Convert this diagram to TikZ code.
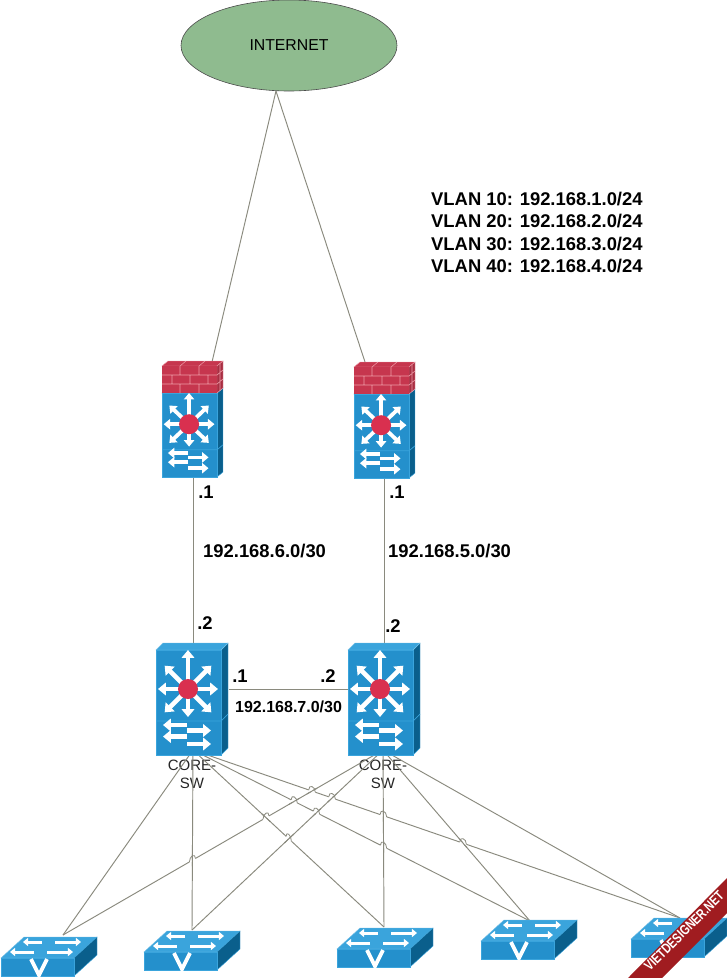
\documentclass[tikz,border=0pt]{standalone}
\usepackage{fontspec}
\setmainfont{Liberation Sans}
\usetikzlibrary{calc,arrows.meta,shapes.geometric}
\definecolor{bfront}{HTML}{2490CC}
\definecolor{bside}{HTML}{0A5F8C}
\definecolor{btop}{HTML}{3AA4DC}
\definecolor{brick}{HTML}{C6364E}
\definecolor{mortar}{HTML}{EE9CA8}
\definecolor{hub}{HTML}{D9304F}
\definecolor{linkc}{HTML}{8A8A7E}
\definecolor{ribbon}{HTML}{A01C20}
\definecolor{netgreen}{HTML}{8FBB8F}
\tikzset{
 link/.style={draw=linkc,line width=0.95pt},
 frontf/.style={fill=bfront,draw=btop,line width=0.6pt},
 sidef/.style={fill=bside,draw=btop,line width=0.4pt},
 topf/.style={fill=btop,draw=btop!70!white,line width=0.4pt},
 warrow/.style={draw=white,line width=#1,-{Triangle[width=2.7*#1,length=1.7*#1]}},
 lab/.style={font=\bfseries\fontsize{18.4}{20}\selectfont,text=black,inner sep=0pt},
 portnode/.style={inner sep=0pt,minimum width=#1,minimum height=0pt},
 devcap/.style={font=\fontsize{15}{18}\selectfont,text=black!85,align=center,inner sep=0pt}
}
% L3 switch body: #1,#2 front top-left, #3 x-scale, #4 y-scale, #5,#6 depth, #7 arrow width
\newcommand\lthree[7]{%
 \begin{scope}[shift={(#1,#2)}]
  \begin{scope}[xscale=#3,yscale=#4]
   \fill[bside,draw=btop,line width=0.4pt] (65,0) -- ($(65,0)+(#5/#3,-#6/#4)$) -- ($(65,105)+(#5/#3,-#6/#4)$) -- (65,105) -- cycle;
   \filldraw[topf] (0,0) -- ($(0,0)+(#5/#3,-#6/#4)$) -- ($(65,0)+(#5/#3,-#6/#4)$) -- (65,0) -- cycle;
   \filldraw[frontf] (0,0) rectangle (65,105);
   \draw[btop,line width=0.7pt] (0,71) -- (65,71) -- ($(65,71)+(#5/#3,-#6/#4)$);
   \foreach \a/\l in {90/28,45/33,0/30,-45/33,180/30,135/33,-135/33,-90/39}
     \draw[warrow=#7] (32,39) -- ++(\a:\l);
   \fill[hub] (32,39) ellipse ({10/#3} and {10/#4});
   \draw[warrow=#7] (31,75) -- (7,75);
   \draw[warrow=#7] (31,80.5) -- (55,80.5);
   \draw[warrow=#7] (31,86.5) -- (7,86.5);
   \draw[warrow=#7] (31,94) -- (55,94);
  \end{scope}
 \end{scope}}
% firewall bricks: #1,#2 front top-left
\newcommand\bricks[2]{%
 \begin{scope}[shift={(#1,#2)}]
  \filldraw[brick,draw=mortar,line width=0.4pt] (0,0) -- (6,-5) -- (61,-5) -- (55,0) -- cycle;
  \filldraw[brick!85!black,draw=mortar,line width=0.4pt] (55,0) -- (61,-5) -- (61,22) -- (55,27) -- cycle;
  \fill[brick] (0,0) rectangle (55,27);
  \draw[mortar,line width=0.55pt] (0,9) -- (55,9) (0,18) -- (55,18)
   (18,0) -- (18,9) (37,0) -- (37,9) (10,9) -- (10,18) (28,9) -- (28,18) (46,9) -- (46,18)
   (18,18) -- (18,27) (37,18) -- (37,27)
   (55,9) -- (61,4) (55,18) -- (61,13) (58,-2.5) -- (58,24.5)
   (18,0) -- (24,-5) (37,0) -- (43,-5);
 \end{scope}}
% VLAN switch: #1,#2 front top-left
\newcommand\vsw[2]{%
 \begin{scope}[shift={(#1,#2)}]
  \filldraw[topf] (0,0) -- (23,-21) -- (96,-21) -- (73,0) -- cycle;
  \filldraw[sidef] (73,0) -- (96,-21) -- (96,-3) -- (73,18) -- cycle;
  \filldraw[frontf] (0,0) rectangle (73,18);
  \draw[warrow=3pt] (41,-16) -- (22,-16);
  \draw[warrow=3pt] (54,-16) -- (80,-16);
  \draw[warrow=3pt] (33,-6) -- (9,-6);
  \draw[warrow=3pt] (46,-6) -- (72,-6);
  \draw[white,line width=3.8pt,line join=miter] (30,1) -- (38,17) -- (46,1);
 \end{scope}}
% line A--B hops over line C--D
\newcommand\hop[4]{%
 \coordinate (X) at (intersection of #1--#2 and #3--#4);
 \coordinate (XA) at ($(X)!3.5pt!(#1)$);
 \coordinate (XB) at ($(X)!3.5pt!(#2)$);
 \draw[white,line width=2pt] (XA) -- (XB);
 \draw[link] ($(X)!6pt!(#3)$) -- ($(X)!6pt!(#4)$);
 \draw[link,line width=0.8pt] (XA) .. controls ($(XA)+(0,-6)$) and ($(XB)+(0,-6)$) .. (XB);}
\begin{document}
\begin{tikzpicture}[x=1pt,y=-1pt]
\useasboundingbox (0,0) rectangle (727,978);
\fill[white] (0,0) rectangle (727,978);

\node[ellipse,draw=black!70,fill=netgreen,line width=0.6pt,minimum width=216pt,minimum height=91pt,inner sep=0pt,font=\fontsize{15.8}{18}\selectfont] (net) at (289,45.5) {INTERNET};
\coordinate (netap) at (276,91);

% device frames (connection ports)
\node[portnode=61pt] (fw1) at (193,477) {};
\node[portnode=61pt] (fw2) at (384,477) {};
\coordinate (fw1top) at (212,362);
\coordinate (fw2top) at (365,362);
\coordinate (c1top) at (193,643);
\coordinate (c2top) at (384,643);
\coordinate (c1e) at (229,689);
\coordinate (c2w) at (348,689);
\coordinate (L) at (193,750);
\coordinate (R) at (383,750);
\coordinate (s1) at (63,935);
\coordinate (s2) at (192,930);
\coordinate (s3) at (384,927);
\coordinate (s4) at (530,921);
\coordinate (s5) at (680,918);

% captions under the lines
\node[devcap] (cap1) at (192,774) {CORE-\\SW};
\node[devcap] (cap2) at (383,774) {CORE-\\SW};

\draw[link] (netap) -- (fw1top);
\draw[link] (netap) -- (fw2top);
\draw[link] (fw1.center) -- (c1top);
\draw[link] (fw2.center) -- (c2top);
\draw[link] (c1e) -- (c2w);
\foreach \a in {L,R}
 \foreach \b in {s1,s2,s3,s4,s5}
  \draw[link] (\a) -- (\b);

% jumps at crossings
\hop{R}{s1}{L}{s2}
\hop{R}{s1}{L}{s3}
\hop{L}{s4}{R}{s1}
\hop{L}{s5}{R}{s1}
\hop{L}{s5}{R}{s2}
\hop{L}{s4}{R}{s2}
\hop{L}{s3}{R}{s2}
\hop{L}{s5}{R}{s3}
\hop{L}{s4}{R}{s3}
\hop{L}{s5}{R}{s4}

% devices
\lthree{162}{393}{0.846}{0.8}{6}{5}{3.8pt}
\bricks{162}{366}
\lthree{354}{394}{0.846}{0.8}{6}{5}{3.8pt}
\bricks{354}{367}
\lthree{156}{650}{1}{1}{7}{7}{4.6pt}
\lthree{348}{650}{1}{1}{7}{7}{4.6pt}
\vsw{1}{958}
\vsw{144}{952}
\vsw{337}{949}
\vsw{481}{941}
\vsw{631}{939}

% labels
\node[lab,anchor=west] (v1) at (431,199) {VLAN 10: 192.168.1.0/24};
\node[lab,anchor=west] (v2) at (431,221.5) {VLAN 20: 192.168.2.0/24};
\node[lab,anchor=west] (v3) at (431,244) {VLAN 30: 192.168.3.0/24};
\node[lab,anchor=west] (v4) at (431,266.5) {VLAN 40: 192.168.4.0/24};
\node[lab,anchor=west] (n1) at (203,551) {192.168.6.0/30};
\node[lab,anchor=west] (n2) at (388,551) {192.168.5.0/30};
\node[lab] (a1) at (206,492) {.1};
\node[lab] (a2) at (397,492) {.1};
\node[lab] (a3) at (205,623) {.2};
\node[lab] (a4) at (393,626) {.2};
\node[lab] (a5) at (240,676) {.1};
\node[lab] (a6) at (328,676) {.2};
\node[lab,anchor=west,font=\bfseries\fontsize{16}{18}\selectfont] (n3) at (235,707) {192.168.7.0/30};

% watermark
\fill[ribbon] (628,978) -- (727,878) -- (727,913) -- (662,978) -- cycle;
\node[rotate=45,xscale=0.78,text=white,inner sep=0pt,font=\bfseries\fontsize{14}{15}\selectfont] (wm) at (684,931) {VIETDESIGNER.NET};
\end{tikzpicture}
\end{document}
